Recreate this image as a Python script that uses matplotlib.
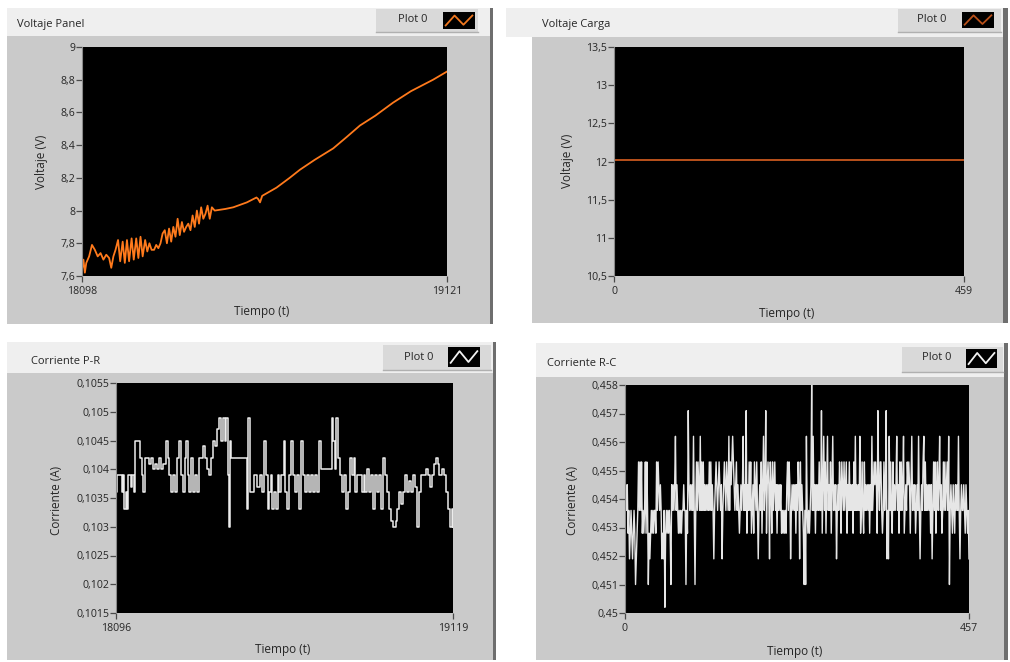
import numpy as np
import matplotlib
matplotlib.use("Agg")
import matplotlib.pyplot as plt
from matplotlib.patches import Rectangle

plt.rcParams['font.family'] = ['Open Sans', 'DejaVu Sans']

# ---------------- data ----------------
# Voltaje Panel (V) versus sample time
vp_t = [18098, 18102, 18106, 18110, 18118, 18126, 18134, 18142, 18150, 18158,
        18166, 18174, 18180, 18186, 18192, 18199, 18205, 18212, 18218, 18224,
        18230, 18237, 18243, 18250, 18256, 18262, 18268, 18275, 18281, 18287,
        18293, 18300, 18306, 18312, 18318, 18324, 18330, 18336, 18342, 18348,
        18354, 18360, 18366, 18372, 18378, 18384, 18390, 18396, 18402, 18408,
        18414, 18420, 18426, 18432, 18438, 18444, 18450, 18456, 18462, 18470,
        18500, 18522, 18560, 18587, 18592, 18597, 18603, 18643, 18680, 18709,
        18750, 18802, 18840, 18877, 18920, 18970, 19020, 19082, 19121]
vp_v = [7.64, 7.70, 7.62, 7.68, 7.72, 7.79, 7.76, 7.72, 7.74, 7.70,
        7.73, 7.71, 7.65, 7.72, 7.76, 7.82, 7.69, 7.81, 7.68, 7.82,
        7.69, 7.83, 7.70, 7.83, 7.71, 7.84, 7.72, 7.82, 7.75, 7.80,
        7.76, 7.76, 7.79, 7.77, 7.80, 7.86, 7.88, 7.80, 7.89, 7.81,
        7.90, 7.84, 7.95, 7.85, 7.93, 7.87, 7.90, 7.92, 7.88, 7.97,
        7.90, 8.00, 7.92, 8.02, 7.95, 7.98, 8.03, 7.95, 8.02, 8.00,
        8.01, 8.02, 8.05, 8.08, 8.07, 8.05, 8.09, 8.14, 8.20, 8.25,
        8.31, 8.38, 8.45, 8.52, 8.58, 8.66, 8.73, 8.80, 8.85]
vp_yticks = [7.6, 7.8, 8.0, 8.2, 8.4, 8.6, 8.8, 9.0]

# Voltaje Carga (V)
vc_t = [0, 459]
vc_v = [12.02, 12.02]
vc_yticks = [10.5, 11.0, 11.5, 12.0, 12.5, 13.0, 13.5]

# Corriente P-R (A)
pr_t = [18096, 18100, 18113, 18117, 18121, 18125, 18129, 18133, 18142, 18146,
        18151, 18155, 18169, 18175, 18179, 18185, 18195, 18201, 18207, 18214,
        18220, 18226, 18232, 18240, 18247, 18253, 18258, 18264, 18270, 18276,
        18282, 18287, 18293, 18298, 18304, 18309, 18314, 18319, 18324, 18329,
        18335, 18341, 18347, 18353, 18359, 18365, 18372, 18378, 18384, 18390,
        18396, 18402, 18408, 18414, 18420, 18426, 18430, 18435, 18438, 18442,
        18446, 18488, 18493, 18498, 18503, 18515, 18523, 18532, 18540, 18546,
        18551, 18556, 18561, 18566, 18571, 18576, 18582, 18587, 18592, 18597,
        18605, 18610, 18615, 18621, 18627, 18633, 18639, 18645, 18651, 18657,
        18663, 18669, 18675, 18682, 18688, 18694, 18700, 18706, 18712, 18718,
        18746, 18752, 18756, 18761, 18765, 18771, 18777, 18782, 18789, 18793,
        18799, 18805, 18811, 18817, 18823, 18829, 18842, 18848, 18853, 18858,
        18864, 18870, 18876, 18882, 18888, 18894, 18900, 18906, 18912, 18919,
        18925, 18931, 18937, 18945, 18949, 18955, 18961, 18967, 18973, 18979,
        18985, 18991, 18998, 19004, 19010, 19016, 19022, 19036, 19042, 19048,
        19054, 19060, 19066, 19072, 19078, 19085, 19091, 19097, 19103, 19109,
        19115, 19119]
pr_v = [0.1036, 0.1039, 0.1036, 0.1039, 0.1033, 0.1036, 0.1033, 0.1039, 0.1037, 0.1039,
        0.1036, 0.1045, 0.1042, 0.1039, 0.1036, 0.1042, 0.1041, 0.1042, 0.1040, 0.1041,
        0.1040, 0.1042, 0.1040, 0.1041, 0.1045, 0.1042, 0.1039, 0.1036, 0.1039, 0.1036,
        0.1042, 0.1045, 0.1039, 0.1036, 0.1042, 0.1045, 0.1039, 0.1036, 0.1042, 0.1036,
        0.1039, 0.1036, 0.1042, 0.1042, 0.1044, 0.1042, 0.1040, 0.1039, 0.1042, 0.1045,
        0.1044, 0.1047, 0.1049, 0.1045, 0.1049, 0.1045, 0.1049, 0.1039, 0.1030, 0.1045,
        0.1042, 0.1042, 0.1033, 0.1049, 0.1036, 0.1039, 0.1037, 0.1039, 0.1036, 0.1045,
        0.1039, 0.1033, 0.1036, 0.1039, 0.1033, 0.1036, 0.1033, 0.1039, 0.1036, 0.1039,
        0.1045, 0.1036, 0.1033, 0.1039, 0.1045, 0.1039, 0.1036, 0.1039, 0.1033, 0.1045,
        0.1039, 0.1036, 0.1039, 0.1036, 0.1039, 0.1036, 0.1039, 0.1036, 0.1045, 0.1040,
        0.1040, 0.1049, 0.1045, 0.1040, 0.1049, 0.1042, 0.1039, 0.1036, 0.1039, 0.1033,
        0.1036, 0.1042, 0.1039, 0.1042, 0.1036, 0.1039, 0.1036, 0.1039, 0.1036, 0.1040,
        0.1036, 0.1039, 0.1033, 0.1039, 0.1036, 0.1039, 0.1033, 0.1042, 0.1039, 0.1036,
        0.1033, 0.1031, 0.1030, 0.1031, 0.1033, 0.1036, 0.1034, 0.1036, 0.1039, 0.1036,
        0.1038, 0.1036, 0.1039, 0.1037, 0.1030, 0.1036, 0.1039, 0.1040, 0.1039, 0.1037,
        0.1039, 0.1041, 0.1042, 0.1041, 0.1039, 0.1040, 0.1039, 0.1036, 0.1033, 0.1030,
        0.1033, 0.1030]
pr_yticks = [0.1015, 0.102, 0.1025, 0.103, 0.1035, 0.104, 0.1045, 0.105, 0.1055]

# Corriente R-C (A), one reading per sample 0..457
rc_v = [
    0.4545, 0.4545, 0.4536, 0.4545, 0.4528, 0.4536, 0.4519, 0.4528, 0.4536, 0.4528, 0.4519, 0.4528, 0.4536, 0.4528, 0.4510, 0.4519, 0.4528, 0.4536, 0.4553, 0.4536,
    0.4553, 0.4536, 0.4553, 0.4528, 0.4536, 0.4528, 0.4536, 0.4553, 0.4528, 0.4553, 0.4536, 0.4510, 0.4528, 0.4519, 0.4528, 0.4536, 0.4528, 0.4536, 0.4528, 0.4536,
    0.4536, 0.4528, 0.4553, 0.4536, 0.4553, 0.4545, 0.4536, 0.4545, 0.4536, 0.4519, 0.4528, 0.4519, 0.4536, 0.4502, 0.4528, 0.4536, 0.4528, 0.4536, 0.4528, 0.4536,
    0.4528, 0.4510, 0.4545, 0.4536, 0.4545, 0.4536, 0.4545, 0.4562, 0.4536, 0.4545, 0.4536, 0.4528, 0.4536, 0.4528, 0.4536, 0.4528, 0.4536, 0.4536, 0.4545, 0.4536,
    0.4536, 0.4510, 0.4536, 0.4528, 0.4571, 0.4545, 0.4536, 0.4545, 0.4536, 0.4545, 0.4536, 0.4562, 0.4536, 0.4510, 0.4536, 0.4553, 0.4536, 0.4553, 0.4545, 0.4536,
    0.4562, 0.4536, 0.4553, 0.4536, 0.4553, 0.4536, 0.4545, 0.4536, 0.4545, 0.4536, 0.4545, 0.4536, 0.4553, 0.4536, 0.4553, 0.4536, 0.4545, 0.4536, 0.4519, 0.4536,
    0.4545, 0.4553, 0.4545, 0.4536, 0.4545, 0.4553, 0.4545, 0.4536, 0.4545, 0.4519, 0.4536, 0.4545, 0.4553, 0.4545, 0.4536, 0.4553, 0.4545, 0.4536, 0.4562, 0.4536,
    0.4553, 0.4545, 0.4553, 0.4562, 0.4553, 0.4545, 0.4536, 0.4545, 0.4553, 0.4536, 0.4545, 0.4536, 0.4528, 0.4536, 0.4545, 0.4536, 0.4545, 0.4562, 0.4536, 0.4545,
    0.4536, 0.4571, 0.4528, 0.4545, 0.4536, 0.4553, 0.4536, 0.4553, 0.4528, 0.4536, 0.4545, 0.4528, 0.4553, 0.4545, 0.4536, 0.4553, 0.4536, 0.4519, 0.4536, 0.4545,
    0.4536, 0.4553, 0.4528, 0.4545, 0.4562, 0.4536, 0.4545, 0.4571, 0.4528, 0.4545, 0.4553, 0.4545, 0.4519, 0.4553, 0.4545, 0.4528, 0.4553, 0.4536, 0.4545, 0.4553,
    0.4536, 0.4545, 0.4528, 0.4545, 0.4536, 0.4545, 0.4536, 0.4545, 0.4528, 0.4536, 0.4528, 0.4536, 0.4528, 0.4536, 0.4528, 0.4545, 0.4553, 0.4536, 0.4553, 0.4545,
    0.4519, 0.4536, 0.4545, 0.4536, 0.4545, 0.4536, 0.4545, 0.4528, 0.4545, 0.4536, 0.4553, 0.4545, 0.4519, 0.4553, 0.4536, 0.4545, 0.4536, 0.4528, 0.4510, 0.4536,
    0.4510, 0.4562, 0.4536, 0.4528, 0.4536, 0.4528, 0.4536, 0.4545, 0.4580, 0.4536, 0.4562, 0.4536, 0.4545, 0.4528, 0.4545, 0.4536, 0.4545, 0.4536, 0.4553, 0.4536,
    0.4536, 0.4571, 0.4528, 0.4545, 0.4562, 0.4536, 0.4553, 0.4528, 0.4545, 0.4562, 0.4536, 0.4545, 0.4536, 0.4553, 0.4528, 0.4545, 0.4562, 0.4536, 0.4545, 0.4536,
    0.4545, 0.4519, 0.4536, 0.4545, 0.4536, 0.4553, 0.4545, 0.4528, 0.4553, 0.4545, 0.4536, 0.4553, 0.4536, 0.4545, 0.4553, 0.4528, 0.4545, 0.4536, 0.4553, 0.4536,
    0.4545, 0.4536, 0.4545, 0.4528, 0.4553, 0.4536, 0.4562, 0.4536, 0.4545, 0.4536, 0.4545, 0.4536, 0.4562, 0.4528, 0.4536, 0.4553, 0.4536, 0.4528, 0.4553, 0.4536,
    0.4545, 0.4536, 0.4545, 0.4536, 0.4545, 0.4528, 0.4545, 0.4536, 0.4562, 0.4536, 0.4545, 0.4553, 0.4545, 0.4553, 0.4545, 0.4528, 0.4571, 0.4545, 0.4536, 0.4553,
    0.4553, 0.4536, 0.4528, 0.4536, 0.4553, 0.4536, 0.4545, 0.4571, 0.4519, 0.4536, 0.4519, 0.4562, 0.4536, 0.4553, 0.4536, 0.4528, 0.4553, 0.4536, 0.4545, 0.4536,
    0.4545, 0.4562, 0.4536, 0.4545, 0.4528, 0.4553, 0.4536, 0.4553, 0.4536, 0.4545, 0.4562, 0.4528, 0.4536, 0.4545, 0.4536, 0.4553, 0.4545, 0.4553, 0.4545, 0.4528,
    0.4545, 0.4562, 0.4536, 0.4545, 0.4536, 0.4545, 0.4528, 0.4536, 0.4545, 0.4536, 0.4562, 0.4536, 0.4519, 0.4536, 0.4545, 0.4536, 0.4553, 0.4562, 0.4536, 0.4553,
    0.4536, 0.4545, 0.4536, 0.4545, 0.4536, 0.4545, 0.4528, 0.4545, 0.4519, 0.4536, 0.4553, 0.4536, 0.4553, 0.4528, 0.4545, 0.4553, 0.4536, 0.4545, 0.4562, 0.4536,
    0.4545, 0.4528, 0.4536, 0.4553, 0.4536, 0.4553, 0.4536, 0.4545, 0.4553, 0.4536, 0.4562, 0.4510, 0.4536, 0.4545, 0.4536, 0.4528, 0.4545, 0.4536, 0.4528, 0.4545,
    0.4536, 0.4545, 0.4536, 0.4562, 0.4536, 0.4519, 0.4536, 0.4545, 0.4536, 0.4536, 0.4545, 0.4536, 0.4528, 0.4545, 0.4536, 0.4528, 0.4536, 0.4519,
]
rc_t = np.arange(len(rc_v))
rc_yticks = [0.450, 0.451, 0.452, 0.453, 0.454, 0.455, 0.456, 0.457, 0.458]

# ---------------- figure ----------------
W, H = 1010, 662
fig = plt.figure(figsize=(W / 100, H / 100), dpi=100, facecolor='white')
canvas = fig.add_axes([0, 0, 1, 1])
canvas.set_xlim(0, W)
canvas.set_ylim(H, 0)
canvas.axis('off')

TEXT = '#262626'
STRIP = '#efefef'
FRAME = '#cacaca'
EDGE = '#6e6e6e'
LEGEND = '#d9d9d9'


def box(x0, y0, x1, y1, color, z=0):
    canvas.add_patch(Rectangle((x0, y0), x1 - x0, y1 - y0, facecolor=color,
                               edgecolor='none', zorder=z))


def comma(v, _pos=None):
    return ('%g' % round(v, 6)).replace('.', ',')


def panel(strip, frame, edge, title, title_xy, legend, legend_text_xy, icon,
          icon_color, plot_rect, t, v, color, lw, ylim, yticks, xlim,
          ylabel, ylabel_xy, xlabel_xy, steps=False):
    box(*strip, STRIP)
    box(*frame, FRAME, 1)
    box(*edge, EDGE, 2)
    box(*legend, LEGEND, 2)
    canvas.plot([legend[0], legend[2]], [legend[3], legend[3]], color='#b0b0b0', lw=1, zorder=3)
    canvas.text(*title_xy, title, fontsize=8, color=TEXT, ha='left', va='center')
    canvas.text(*legend_text_xy, 'Plot 0', fontsize=8, color=TEXT, ha='center', va='center', zorder=4)
    canvas.text(*ylabel_xy, ylabel, fontsize=8.5, color=TEXT, rotation=90, ha='center', va='center', zorder=4)
    canvas.text(*xlabel_xy, 'Tiempo (t)', fontsize=8.5, color=TEXT, ha='center', va='center', zorder=4)

    # legend swatch
    ix0, iy0, ix1, iy1 = icon
    ia = fig.add_axes([ix0 / W, 1 - iy1 / H, (ix1 - ix0) / W, (iy1 - iy0) / H])
    ia.set_facecolor('black')
    ia.plot([0, 1, 2, 3], [0.15, 0.85, 0.2, 0.85], color=icon_color, lw=1.3)
    ia.set_xlim(-0.3, 3.3)
    ia.set_ylim(-0.1, 1.1)
    ia.set_xticks([])
    ia.set_yticks([])
    for s in ia.spines.values():
        s.set_visible(False)

    x0, y0, x1, y1 = plot_rect
    ax = fig.add_axes([x0 / W, 1 - y1 / H, (x1 - x0) / W, (y1 - y0) / H])
    ax.set_facecolor('black')
    ax.plot(t, v, color=color, lw=lw, drawstyle='steps-post' if steps else 'default')
    ax.set_xlim(*xlim)
    ax.set_ylim(*ylim)
    ax.set_yticks(yticks)
    ax.yaxis.set_major_formatter(comma)
    ax.set_xticks(list(xlim))
    ax.set_xticklabels([str(int(x)) for x in xlim])
    for name, s in ax.spines.items():
        s.set_visible(name == 'left')
    ax.spines['left'].set_color('#8a8a8a')
    ax.tick_params(axis='y', direction='out', length=4, width=0.9, color='#4a4a4a',
                   labelsize=7.6, labelcolor=TEXT, pad=1)
    ax.tick_params(axis='x', direction='out', length=4, width=0.9, color='#4a4a4a',
                   labelsize=7.6, labelcolor=TEXT, pad=3.5)
    return ax


panel(strip=(7, 8, 493, 36), frame=(7, 36, 490, 324), edge=(490, 8, 493, 324),
      title='Voltaje Panel', title_xy=(17, 24),
      legend=(376, 9, 478, 32), legend_text_xy=(413, 20), icon=(443, 12, 475, 29),
      icon_color='#f07820', plot_rect=(82, 47, 447, 276),
      t=vp_t, v=vp_v, color='#ff7a1c', lw=1.3, ylim=(7.6, 9.0), yticks=vp_yticks,
      xlim=(18098, 19121), ylabel='Voltaje (V)', ylabel_xy=(42, 162),
      xlabel_xy=(262, 312))

panel(strip=(506, 8, 1008, 37), frame=(532, 37, 1003, 323), edge=(1003, 8, 1008, 323),
      title='Voltaje Carga', title_xy=(542, 24),
      legend=(898, 9, 1001, 32), legend_text_xy=(932, 20), icon=(962, 12, 994, 28),
      icon_color='#b8501a', plot_rect=(614, 47, 964, 276),
      t=vc_t, v=vc_v, color='#c8581e', lw=1.3, ylim=(10.5, 13.5), yticks=vc_yticks,
      xlim=(0, 459), ylabel='Voltaje (V)', ylabel_xy=(568, 161),
      xlabel_xy=(787, 313))

panel(strip=(7, 342, 495, 373), frame=(7, 373, 493, 660), edge=(493, 342, 496, 660),
      title='Corriente P-R', title_xy=(31, 362),
      legend=(383, 345, 491, 370), legend_text_xy=(419, 358), icon=(448, 347, 480, 367),
      icon_color='#f2f2f2', plot_rect=(116, 383, 453, 613),
      t=pr_t, v=pr_v, color='#ededed', lw=1.1, ylim=(0.1015, 0.1055), yticks=pr_yticks,
      xlim=(18096, 19119), ylabel='Corriente (A)', ylabel_xy=(57, 500),
      xlabel_xy=(283, 649), steps=True)

panel(strip=(536, 343, 1008, 377), frame=(536, 377, 1004, 660), edge=(1004, 343, 1008, 660),
      title='Corriente R-C', title_xy=(547, 363),
      legend=(902, 347, 1003, 372), legend_text_xy=(937, 358), icon=(966, 349, 997, 368),
      icon_color='#f2f2f2', plot_rect=(625, 385, 969, 613),
      t=rc_t, v=rc_v, color='#e6e6e6', lw=1.0, ylim=(0.450, 0.458), yticks=rc_yticks,
      xlim=(0, 457), ylabel='Corriente (A)', ylabel_xy=(572, 500),
      xlabel_xy=(795, 651))

fig.savefig('out.png', dpi=100, facecolor='white')
